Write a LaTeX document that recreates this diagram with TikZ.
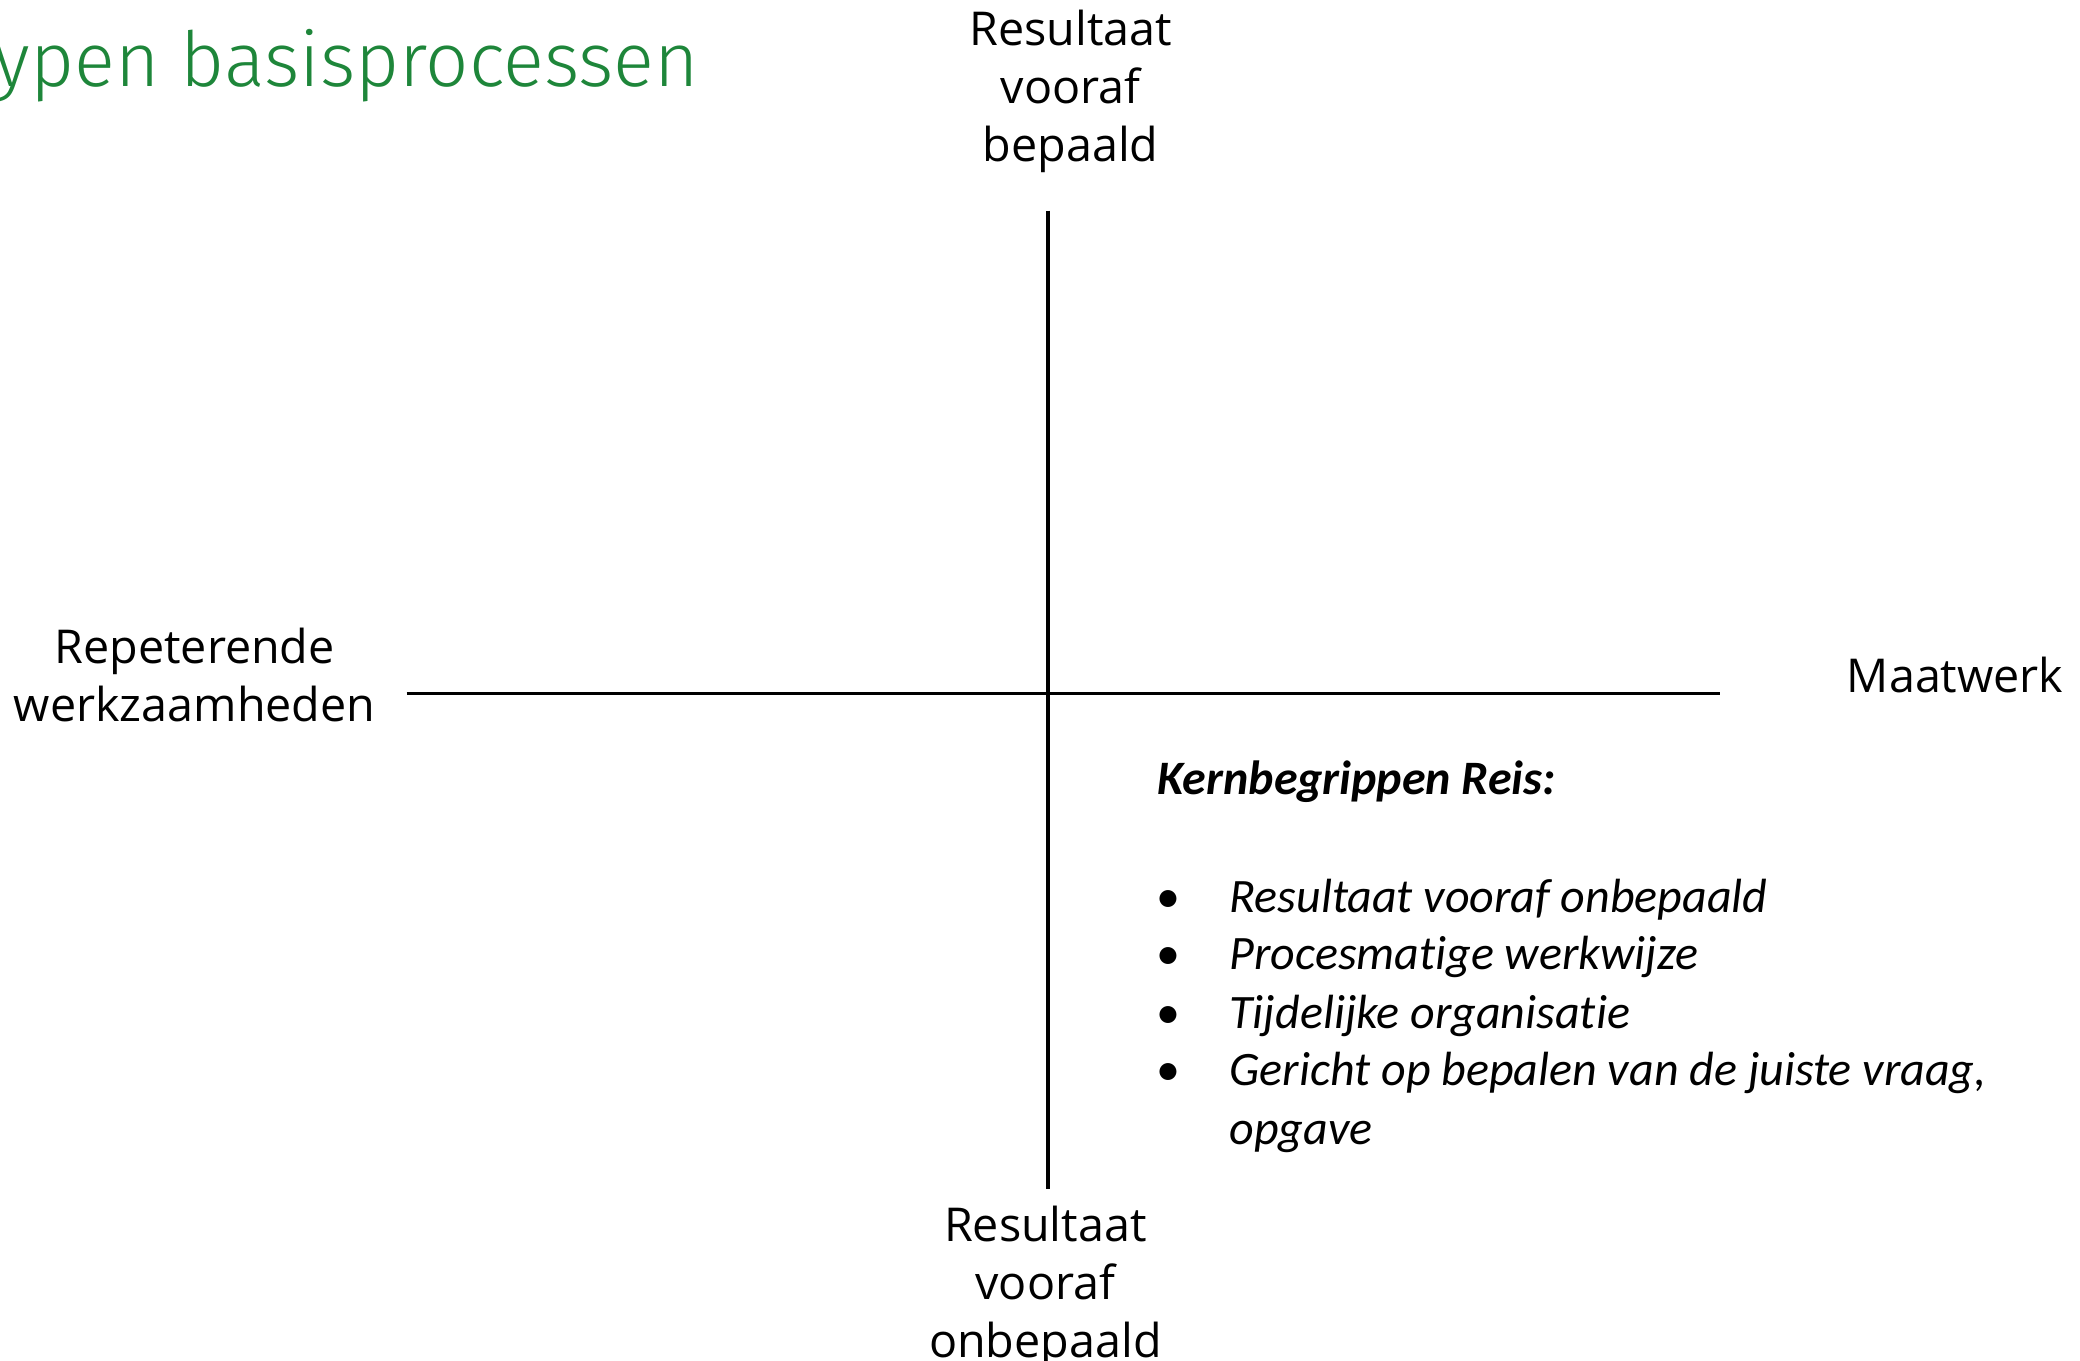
\documentclass[tikz,border=0pt]{standalone}
\usepackage{fontspec}
\setmainfont{Open Sans}
\newfontfamily\listfont[Ligatures=NoCommon]{Carlito}
\newfontfamily\titlefont{Fira Sans Light}
\definecolor{titlegreen}{RGB}{30,134,58}
\newcommand{\bul}{\makebox[55pt][l]{\upshape\textbullet}}
\tikzset{
  titletext/.style={font=\titlefont\fontsize{57}{64}\selectfont, text=titlegreen, inner sep=0, anchor=base west},
  axlabel/.style={font=\fontsize{35}{43.5}\selectfont, align=center, inner sep=0},
  axisline/.style={line width=2.6pt},
  listhead/.style={font=\listfont\bfseries\itshape\fontsize{36}{43.5}\selectfont, inner sep=0, anchor=base west},
  listitem/.style={font=\listfont\itshape\fontsize{36}{43.5}\selectfont, inner sep=0, anchor=base west},
}
\begin{document}
\begin{tikzpicture}[x=1pt,y=-1pt]
\useasboundingbox (0,0) rectangle (1560,1020);
\node[titletext] (title) at (-4,65) {ypen basisprocessen};
\node[axlabel, anchor=north] (top) at (803,7) {Resultaat\\vooraf\\bepaald};
\node[axlabel, anchor=north] (left) at (146,471) {Repeterende\\werkzaamheden};
\node[axlabel, anchor=base west] (right) at (1385,519) {Maatwerk};
\node[axlabel, anchor=north] (bottom) at (784,904) {Resultaat\\vooraf\\onbepaald};
\coordinate (vt) at (786,158);
\coordinate (vb) at (786,892);
\coordinate (hl) at (305,520);
\coordinate (hr) at (1290,520);
\draw[axisline] (vt) -- (vb);
\draw[axisline] (hl) -- (hr);
\node[listhead] (kern) at (868,596) {Kernbegrippen Reis:};
\node[listitem] (k1) at (867,684) {\bul Resultaat vooraf onbepaald};
\node[listitem] (k2) at (867,727) {\bul Procesmatige werkwijze};
\node[listitem] (k3) at (867,771) {\bul Tijdelijke organisatie};
\node[listitem] (k4) at (867,814) {\bul Gericht op bepalen van de juiste vraag,};
\node[listitem] (k5) at (922,858) {opgave};
\end{tikzpicture}
\end{document}
